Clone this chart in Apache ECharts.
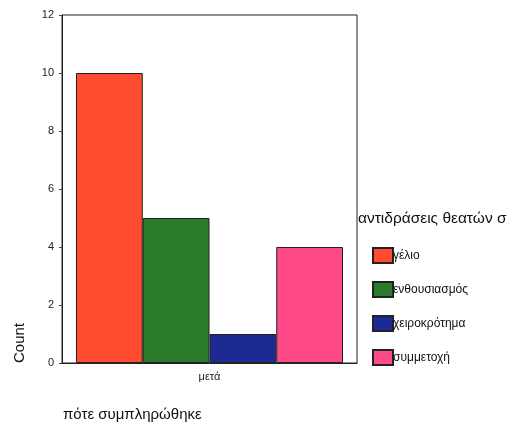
<!DOCTYPE html>
<html><head><meta charset="utf-8">
<script src="https://cdn.jsdelivr.net/npm/echarts@6/dist/echarts.min.js"></script>
<style>html,body{margin:0;padding:0;background:#fff}#c{width:515px;height:425px}</style>
</head><body><div id="c"></div>
<script>
const categories = ['μετά'];
const seriesNames = ['γέλιο', 'ενθουσιασμός', 'χειροκρότημα', 'συμμετοχή'];
const seriesValues = [[10], [5], [1], [4]];
const seriesColors = ['#FF4C30', '#2C7A2C', '#1E2A94', '#FF4A8A'];
const yTicks = [0, 2, 4, 6, 8, 10, 12];
const legendTitle = 'αντιδράσεις θεατών σ';
const xTitle = 'πότε συμπληρώθηκε';
const yTitle = 'Count';

const chart = echarts.init(document.getElementById('c'));
const font = 'Liberation Sans, Arial, sans-serif';
chart.setOption({
  animation: false,
  backgroundColor: '#fff',
  textStyle: {fontFamily: font},
  title: [
    {text: legendTitle, left: 353, top: 206, textStyle: {fontSize: 15.5, fontWeight: 'normal', color: '#111', fontFamily: font}},
    {text: xTitle, left: 58, top: 402, textStyle: {fontSize: 15, fontWeight: 'normal', color: '#111', fontFamily: font}}
  ],
  graphic: [{
    type: 'text', x: 20, y: 343, rotation: Math.PI / 2,
    style: {text: yTitle, font: '15px Liberation Sans, Arial, sans-serif', fill: '#111', textAlign: 'center', textVerticalAlign: 'middle'}
  }],
  legend: {
    orient: 'vertical', left: 367, top: 242, itemWidth: 20, itemHeight: 15, itemGap: 17,
    data: seriesNames, textStyle: {fontSize: 12, color: '#111', padding: [0, 0, 0, -5]},
    icon: 'rect'
  },
  grid: {left: 62, right: 158, top: 15, bottom: 62, show: true, borderColor: '#222', borderWidth: 1},
  xAxis: {
    type: 'category', data: categories,
    axisLine: {lineStyle: {color: '#222'}},
    axisTick: {alignWithLabel: true, length: 3, lineStyle: {color: '#111', width: 2}},
    axisLabel: {color: '#222', fontSize: 11, margin: 8}
  },
  yAxis: {
    type: 'value', min: 0, max: 12, interval: 2,
    axisLine: {show: true, lineStyle: {color: '#222'}},
    axisTick: {show: true, length: 3, lineStyle: {color: '#444'}},
    axisLabel: {color: '#222', fontSize: 11, margin: 8},
    splitLine: {show: false}
  },
  series: seriesNames.map((n, i) => ({
    name: n, type: 'bar', data: seriesValues[i],
    barGap: '0%', barCategoryGap: '9.5%',
    itemStyle: {color: seriesColors[i], borderColor: '#222', borderWidth: 1}
  }))
});
</script></body></html>
